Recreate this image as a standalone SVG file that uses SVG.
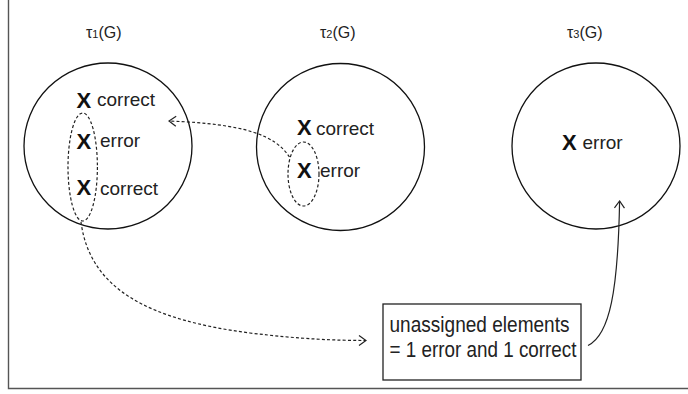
<svg xmlns="http://www.w3.org/2000/svg" width="688" height="394" viewBox="0 0 688 394">
<style>
.c{fill:none;stroke:#111;stroke-width:1.3}
.d{fill:none;stroke:#222;stroke-width:1.2;stroke-dasharray:3 2.2}
.t{font-family:"Liberation Sans",Arial,sans-serif;font-size:19px;fill:#222}
.x{font-family:"Liberation Sans",Arial,sans-serif;font-size:22px;font-weight:bold;fill:#111}
.h{font-family:"Liberation Sans",Arial,sans-serif;font-size:16px;fill:#222}
.s{font-size:11px}
.b{font-family:"Liberation Sans",Arial,sans-serif;font-size:22px;fill:#222}
</style>
<defs>
<marker id="ah" viewBox="0 0 10 12" refX="9" refY="6" markerWidth="10" markerHeight="12" orient="auto" markerUnits="userSpaceOnUse">
<path d="M2,1 L9,6 L2,11" fill="none" stroke="#222" stroke-width="1.2"/>
</marker>
</defs>
<rect x="0" y="0" width="688" height="394" fill="#fff"/>
<path d="M8.5,0 V388.5 H688" fill="none" stroke="#555" stroke-width="1.4"/>
<g id="t1">
<text class="h" x="86" y="38">τ<tspan class="s">1</tspan>(G)</text>
<ellipse class="c" cx="108" cy="146" rx="84" ry="83"/>
<text class="x" x="76.5" y="108">X</text><text class="t" x="97" y="106">correct</text>
<text class="x" x="76.5" y="148.5">X</text><text class="t" x="100" y="147">error</text>
<text class="x" x="76.5" y="195">X</text><text class="t" x="100" y="195">correct</text>
<ellipse class="d" cx="82.7" cy="167" rx="14.7" ry="54"/>
</g>
<g id="t2">
<text class="h" x="320" y="38">τ<tspan class="s">2</tspan>(G)</text>
<ellipse class="c" cx="340.5" cy="147" rx="84" ry="83.5"/>
<text class="x" x="297" y="135">X</text><text class="t" x="316" y="135">correct</text>
<text class="x" x="297" y="177.5">X</text><text class="t" x="320" y="177">error</text>
<ellipse class="d" cx="303.5" cy="174" rx="15.5" ry="32"/>
</g>
<g id="t3">
<text class="h" x="567" y="38">τ<tspan class="s">3</tspan>(G)</text>
<ellipse class="c" cx="596" cy="146" rx="84" ry="83"/>
<text class="x" x="562" y="150">X</text><text class="t" x="582.5" y="149">error</text>
</g>
<g id="box">
<rect x="383" y="304" width="198" height="76" fill="none" stroke="#222" stroke-width="1.3"/>
<text class="b" x="389.5" y="332" textLength="180" lengthAdjust="spacingAndGlyphs">unassigned elements</text>
<text class="b" x="389.5" y="357" textLength="187" lengthAdjust="spacingAndGlyphs">= 1 error and 1 correct</text>
</g>
<g id="connectors">
<path class="d" d="M289.5,157 C275,135 245,124 169,121" marker-end="url(#ah)"/>
<path class="d" d="M81,222 C90,290 150,320 250,333 C300,339 335,340.5 366,340.5" marker-end="url(#ah)"/>
<path d="M588,345.5 C610,335 618,290 619.6,201" fill="none" stroke="#222" stroke-width="1.2" marker-end="url(#ah)"/>
</g>
</svg>
